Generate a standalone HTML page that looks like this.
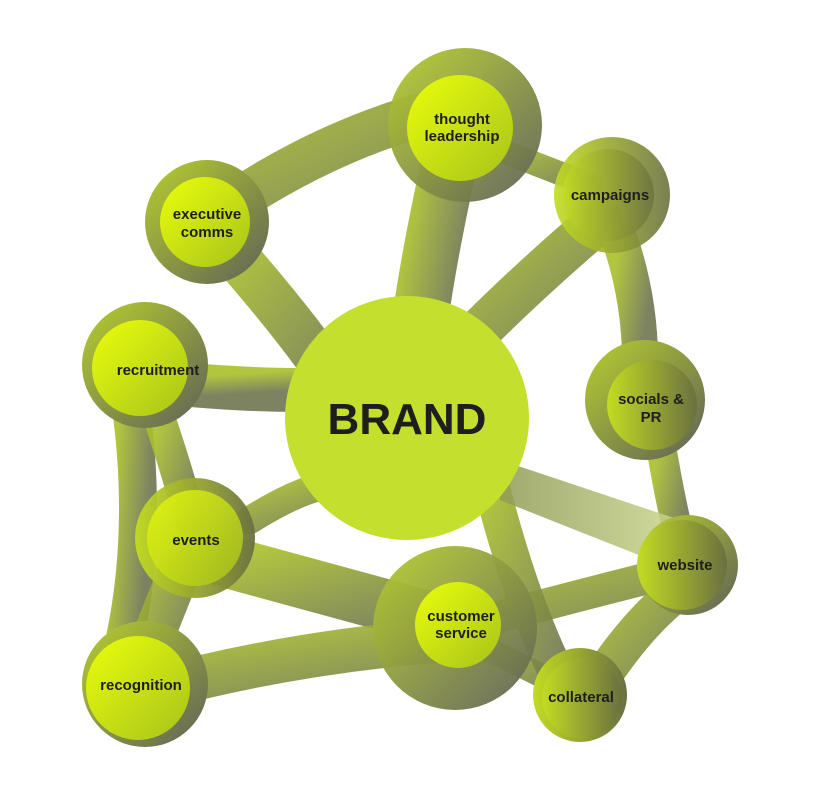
<!DOCTYPE html>
<html><head><meta charset="utf-8"><style>
html,body{margin:0;padding:0;background:#fff;}
svg{display:block}
text{font-family:"Liberation Sans",sans-serif;font-weight:bold;fill:#1e1e1e;text-anchor:middle}
</style></head><body>
<svg width="823" height="800" viewBox="0 0 823 800" xmlns="http://www.w3.org/2000/svg">
<defs>
<linearGradient id="band" x1="0" y1="0" x2="1" y2="1">
<stop offset="0" stop-color="#a9bf2a"/><stop offset="1" stop-color="#6f7550"/></linearGradient>
<linearGradient id="dark" x1="0" y1="0" x2="1" y2="1">
<stop offset="0" stop-color="#b9cf2e"/><stop offset="1" stop-color="#5e6058"/></linearGradient>
<linearGradient id="lime" x1="0" y1="0" x2="1" y2="1">
<stop offset="0" stop-color="#eaff0a"/><stop offset="1" stop-color="#a7c21c"/></linearGradient>
<linearGradient id="lime2" x1="0" y1="0" x2="1" y2="0">
<stop offset="0" stop-color="#c3dc22"/><stop offset="1" stop-color="#6b7040"/></linearGradient>
<linearGradient id="light" x1="0" y1="0" x2="1" y2="0">
<stop offset="0" stop-color="#8f9a55"/><stop offset="1" stop-color="#cdd990"/></linearGradient>
</defs>
<g fill="none" stroke="url(#band)" stroke-opacity="0.9" stroke-linecap="round">
<path d="M205 222 Q320 140 440 110" stroke-width="44"/>
<path d="M230 250 Q300 330 340 390" stroke-width="46"/>
<path d="M450 160 Q430 250 420 320" stroke-width="56"/>
<path d="M500 150 L590 185" stroke-width="24"/>
<path d="M600 220 Q530 280 480 330" stroke-width="44"/>
<path d="M620 240 Q640 300 640 360" stroke-width="36"/>
<path d="M520 405 L620 405" stroke-width="30"/>
<path d="M660 440 Q670 500 680 540" stroke-width="30"/>
<path d="M140 380 Q230 390 300 390" stroke-width="44"/>
<path d="M130 400 Q150 540 120 660" stroke-width="38"/>
<path d="M160 420 Q180 480 190 520" stroke-width="32"/>
<path d="M220 560 Q330 590 440 620" stroke-width="52"/>
<path d="M180 570 Q160 620 140 670" stroke-width="42"/>
<path d="M150 690 Q300 650 450 640" stroke-width="44"/>
<path d="M450 630 Q560 600 680 570" stroke-width="32"/>
<path d="M470 640 L570 690" stroke-width="24"/>
<path d="M600 680 Q640 620 680 590" stroke-width="38"/>
<path d="M490 480 Q520 600 560 680" stroke-width="36"/>
<path d="M250 520 Q330 470 360 490" stroke-width="28"/>
</g>
<path d="M500 460 Q590 490 680 520 L690 575 Q600 540 500 500 Z" fill="url(#light)" opacity="0.85"/>
<circle cx="465" cy="125" r="77" fill="url(#dark)" opacity="0.95"/>
<circle cx="207" cy="222" r="62" fill="url(#dark)"/>
<circle cx="612" cy="195" r="58" fill="url(#lime2)" opacity="0.9"/>
<circle cx="145" cy="365" r="63" fill="url(#dark)"/>
<circle cx="645" cy="400" r="60" fill="url(#dark)"/>
<circle cx="195" cy="538" r="60" fill="url(#lime2)" opacity="0.95"/>
<circle cx="688" cy="565" r="50" fill="url(#dark)"/>
<circle cx="455" cy="628" r="82" fill="url(#dark)" opacity="0.95"/>
<circle cx="580" cy="695" r="47" fill="url(#lime2)"/>
<circle cx="145" cy="684" r="63" fill="url(#dark)"/>
<circle cx="460" cy="128" r="53" fill="url(#lime)"/>
<circle cx="205" cy="222" r="45" fill="url(#lime)"/>
<circle cx="608" cy="195" r="46" fill="url(#lime2)" opacity="0.8"/>
<circle cx="140" cy="368" r="48" fill="url(#lime)"/>
<circle cx="652" cy="405" r="45" fill="url(#lime2)"/>
<circle cx="195" cy="538" r="48" fill="url(#lime)" opacity="0.8"/>
<circle cx="682" cy="565" r="45" fill="url(#lime2)"/>
<circle cx="458" cy="625" r="43" fill="url(#lime)"/>
<circle cx="582" cy="698" r="40" fill="url(#lime2)"/>
<circle cx="138" cy="688" r="52" fill="url(#lime)"/>
<circle cx="407" cy="418" r="122" fill="#c4df2e"/>
<text x="407" y="434" font-size="44">BRAND</text>
<text x="462" y="124" font-size="15">thought</text>
<text x="462" y="141" font-size="15">leadership</text>
<text x="610" y="200" font-size="15">campaigns</text>
<text x="207" y="219" font-size="15">executive</text>
<text x="207" y="237" font-size="15">comms</text>
<text x="158" y="375" font-size="15">recruitment</text>
<text x="651" y="404" font-size="15">socials &amp;</text>
<text x="651" y="422" font-size="15">PR</text>
<text x="196" y="545" font-size="15">events</text>
<text x="685" y="570" font-size="15">website</text>
<text x="461" y="621" font-size="15">customer</text>
<text x="461" y="638" font-size="15">service</text>
<text x="581" y="702" font-size="15">collateral</text>
<text x="141" y="690" font-size="15">recognition</text>
</svg>
</body></html>
